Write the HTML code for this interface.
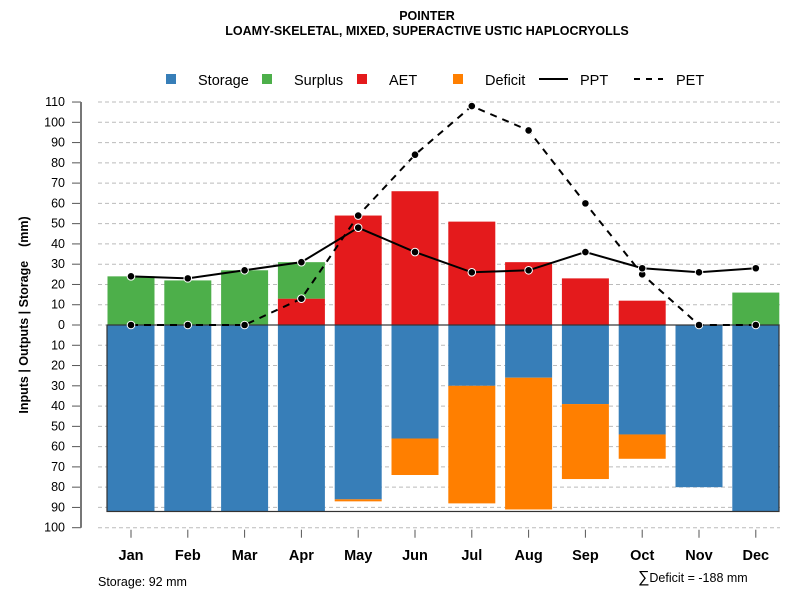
<!DOCTYPE html>
<html><head><meta charset="utf-8"><style>
html,body{margin:0;padding:0;background:#fff;}
svg{display:block;font-family:"Liberation Sans",sans-serif;}
</style></head><body>
<svg id="chart" width="800" height="600" viewBox="0 0 800 600">
<text x="427" y="20" text-anchor="middle" font-size="12.5" font-weight="bold">POINTER</text>
<text x="427" y="35" text-anchor="middle" font-size="12.5" font-weight="bold">LOAMY-SKELETAL, MIXED, SUPERACTIVE USTIC HAPLOCRYOLLS</text>
<g>
<rect x="166" y="74" width="10" height="10" fill="#377EB8"/>
<text x="198" y="85" font-size="14.5">Storage</text>
<rect x="262" y="74" width="10" height="10" fill="#4DAF4A"/>
<text x="294" y="85" font-size="14.5">Surplus</text>
<rect x="357" y="74" width="10" height="10" fill="#E41A1C"/>
<text x="389" y="85" font-size="14.5">AET</text>
<rect x="453" y="74" width="10" height="10" fill="#FF7F00"/>
<text x="485" y="85" font-size="14.5">Deficit</text>
<line x1="539" y1="79" x2="568" y2="79" stroke="#000" stroke-width="2"/>
<text x="580" y="85" font-size="14.5">PPT</text>
<line x1="634" y1="79" x2="663" y2="79" stroke="#000" stroke-width="2" stroke-dasharray="6,6"/>
<text x="676" y="85" font-size="14.5">PET</text>
</g>
<text transform="translate(28,315) rotate(-90)" text-anchor="middle" font-size="12.5" font-weight="bold" xml:space="preserve">Inputs | Outputs | Storage    (mm)</text>
<text x="98" y="586" font-size="12.5">Storage: 92 mm</text>
<text x="638" y="582" font-size="12.5"><tspan font-size="16">∑</tspan>Deficit = -188 mm</text>
<g id="plot"></g>
</svg>
<script>
const months = ["Jan","Feb","Mar","Apr","May","Jun","Jul","Aug","Sep","Oct","Nov","Dec"];
const storage = [92,92,92,92,86,56,30,26,39,54,80,92];
const deficit = [0,0,0,0,1,18,58,65,37,12,0,0];
const aet = [0,0,0,13,54,66,51,31,23,12,0,0];
const surplus = [24,22,27,18,0,0,0,0,0,0,0,16];
const ppt = [24,23,27,31,48,36,26,27,36,28,26,28];
const pet = [0,0,0,13,54,84,108,96,60,25,0,0];
const yTicks = [110,100,90,80,70,60,50,40,30,20,10,0,-10,-20,-30,-40,-50,-60,-70,-80,-90,-100];
const capacity = 92;

const NS="http://www.w3.org/2000/svg";
const g=document.getElementById('plot');
const y=v=>325 - v*2.027;
const x=i=>131 + i*56.8;
const bw=47;
function el(t,a){const e=document.createElementNS(NS,t);for(const k in a)e.setAttribute(k,a[k]);g.appendChild(e);return e;}

yTicks.forEach(t=>{
  const gl=el('line',{x1:98,x2:780,y1:y(t),y2:y(t),stroke:'#bbb','stroke-dasharray':'4,3'});
  
  
  const tk=el('line',{x1:72,x2:81,y1:y(t),y2:y(t),stroke:'#555'});
  
  
  const lb=el('text',{x:65,y:y(t)+4,'text-anchor':'end','font-size':12.5});
  lb.textContent=Math.abs(t);
  
  
});
const ax=el('line',{x1:81,x2:81,y1:y(110),y2:y(-100),stroke:'#777','stroke-width':2});



months.forEach((m,i)=>{
  const cx=x(i), l=cx-bw/2;
  if(storage[i]>0){const r=el('rect',{x:l,y:y(0),width:bw,height:y(-storage[i])-y(0),fill:'#377EB8'});
    
    }
  if(deficit[i]>0){const r=el('rect',{x:l,y:y(-storage[i]),width:bw,height:y(-storage[i]-deficit[i])-y(-storage[i]),fill:'#FF7F00'});
    
    }
  if(aet[i]>0){const r=el('rect',{x:l,y:y(aet[i]),width:bw,height:y(0)-y(aet[i]),fill:'#E41A1C'});
    
    }
  if(surplus[i]>0){const r=el('rect',{x:l,y:y(aet[i]+surplus[i]),width:bw,height:y(aet[i])-y(aet[i]+surplus[i]),fill:'#4DAF4A'});
    
    }
  const tk=el('line',{x1:cx,x2:cx,y1:y(-100)+2,y2:y(-100)+10,stroke:'#555'});
  
  
  const lb=el('text',{x:cx,y:560,'text-anchor':'middle','font-size':14.5,'font-weight':'bold'});
  lb.textContent=m;
  
  
});
const box=el('rect',{x:107,y:y(0),width:672,height:y(-capacity)-y(0),fill:'none',stroke:'#333','stroke-width':1.2});



function series(vals,name,dash){
  const p=el('polyline',{points:vals.map((v,i)=>x(i)+','+y(v)).join(' '),fill:'none',stroke:'#000','stroke-width':2,'stroke-dasharray':dash||'none'});
  
  
  vals.forEach((v,i)=>{const c=el('circle',{cx:x(i),cy:y(v),r:3.8,fill:'#000',stroke:'#fff','stroke-width':1});
    
    });
}
series(pet,'pet','7,6');
series(ppt,'ppt');
</script>
</body></html>
